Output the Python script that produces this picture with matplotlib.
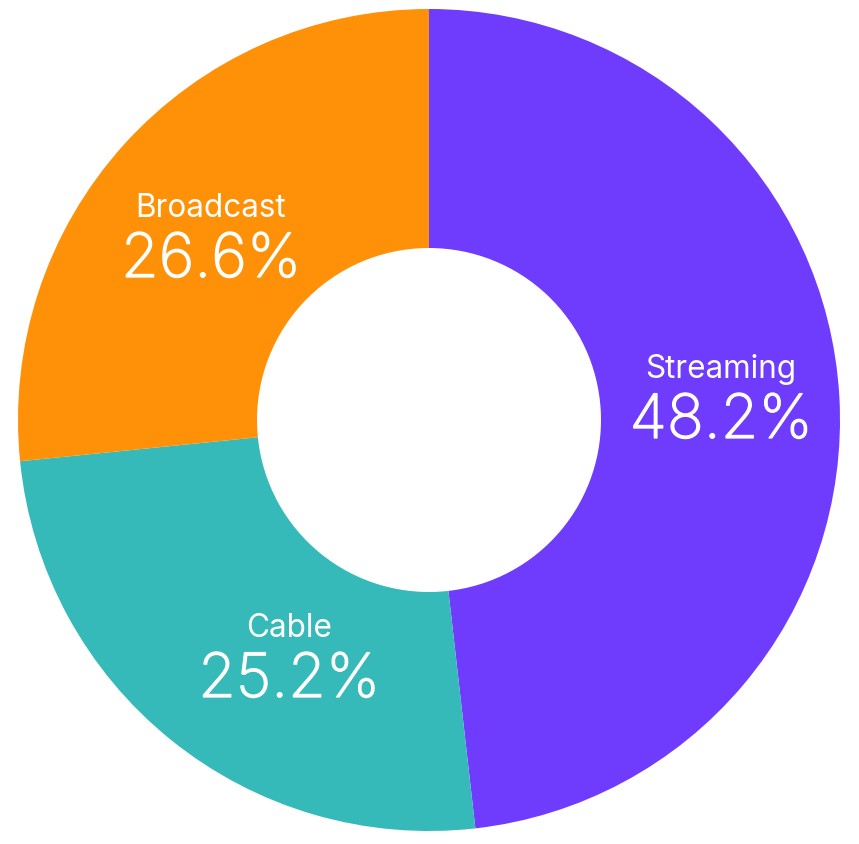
import matplotlib
matplotlib.use("Agg")
import matplotlib.pyplot as plt
import matplotlib.patheffects as pe

# chart data
categories = ["Streaming", "Cable", "Broadcast"]
shares = [48.2, 25.2, 26.6]
colors = ["#6F3BFD", "#35BAB9", "#FF9108"]

# label anchors in image pixels (x, percent baseline y)
label_anchor = [(721, 439), (289, 698), (211, 278)]

W, H = 859, 845
CX, CY = 429, 421
R_OUT, R_IN = 411, 172

fig = plt.figure(figsize=(W / 100, H / 100), dpi=100)
ax = fig.add_axes([0, 0, 1, 1])

ax.pie(
    shares,
    colors=colors,
    startangle=90,
    counterclock=False,
    center=(CX, H - CY),
    radius=R_OUT,
    wedgeprops=dict(width=R_OUT - R_IN, linewidth=0),
    frame=True,
)
ax.set_xlim(0, W)
ax.set_ylim(0, H)
ax.set_axis_off()

thicken = [pe.withStroke(linewidth=0.9, foreground="white")]
for name, share, (lx, ly) in zip(categories, shares, label_anchor):
    ax.text(lx, H - (ly - 61), name, ha="center", va="baseline",
            color="white", fontsize=22.7, family="Inter")
    ax.text(lx, H - ly, f"{share:.1f}%", ha="center", va="baseline",
            color="white", fontsize=44, family="Inter", fontweight="light",
            path_effects=thicken)

fig.savefig("out.png", dpi=100, facecolor="white")
